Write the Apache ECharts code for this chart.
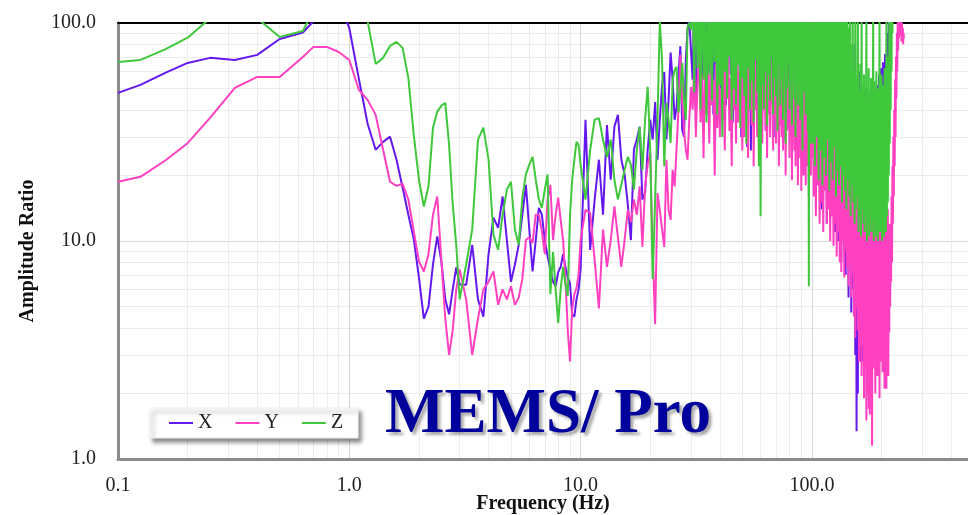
<!DOCTYPE html>
<html>
<head>
<meta charset="utf-8">
<script src="https://cdn.jsdelivr.net/npm/echarts@6/dist/echarts.min.js"></script>
<style>
html,body{margin:0;padding:0;background:#fff;}
#chart{width:968px;height:515px;}
</style>
</head>
<body>
<div id="chart"></div>
<script>
// Frequency (Hz)
const freq = [
  0.1,0.125,0.16,0.2,0.25,0.32,0.4,0.5,0.63,0.7,0.8,0.9,
  1,1.1,1.2,1.3,1.4,1.5,1.6,1.7,1.8,1.9,
  2,2.1,2.2,2.3,2.4,2.5,2.6,2.7,2.8,2.9,3,
  3.2,3.4,3.6,3.8,4,4.2,4.4,4.6,4.8,5,
  5.2,5.4,5.6,5.8,6,6.2,6.4,6.6,6.8,7,
  7.2,7.4,7.6,7.8,8,8.2,8.4,8.6,8.8,9,
  9.2,9.4,9.6,9.8,10,
  10.5,11,11.5,12,12.5,13,13.5,14,14.5,15,
  15.5,16,16.5,17,17.5,18,18.5,19,19.5,20,
  20.5,21,21.5,22,22.5,23,23.5,24,24.5,25,
  25.5,26,26.5,27,27.5,28,28.5,29,29.5,30,
  30.5,31,31.5,32,32.5,33,33.5,34,34.5,35,
  35.5,36,36.5,37,37.5,38,38.5,39,39.5,40,
  40.5,41,41.5,42,42.5,43,43.5,44,44.5,45,
  45.5,46,46.5,47,47.5,48,48.5,49,49.5,50,
  50.5,51,51.5,52,52.5,53,53.5,54,54.5,55,
  55.5,56,56.5,57,57.5,58,58.5,59,59.5,60,
  60.5,61,61.5,62,62.5,63,63.5,64,64.5,65,
  65.5,66,66.5,67,67.5,68,68.5,69,69.5,70,
  70.5,71,71.5,72,72.5,73,73.5,74,74.5,75,
  75.5,76,76.5,77,77.5,78,78.5,79,79.5,80,
  80.5,81,81.5,82,82.5,83,83.5,84,84.5,85,
  85.5,86,86.5,87,87.5,88,88.5,89,89.5,90,
  90.5,91,91.5,92,92.5,93,93.5,94,94.5,95,
  95.5,96,96.5,97,97.5,98,98.5,99,99.5,100,
  101,102,103,104,105,106,107,108,109,110,
  111,112,113,114,115,116,117,118,119,120,
  121,122,123,124,125,126,127,128,129,130,
  131,132,133,134,135,136,137,138,139,140,
  141,142,143,144,145,146,147,148,149,150,
  151,152,153,154,155,156,157,158,159,160,
  161,162,163,164,165,166,167,168,169,170,
  171,172,173,174,175,176,177,178,179,180,
  181,182,183,184,185,186,187,188,189,190,
  191,192,193,194,195,196,197,198,199,200,
  201,202,203,204,205,206,207,208,209,210,
  211,212,213,214,215,216,217,218,219,220,
  221,222,223,224,225,226,227,228,229,230,
  231,232,233,234,235,236,237,238,239,240,
  241,242,243,244,245,246,247,248,249,250
];
// Amplitude ratio, X direction
const ampX = [
  47.8,52.0,59.0,65.6,69.2,67.7,71.4,84.5,90.5,102,130,125,
  94.9,55.4,34.5,26.2,28.5,30.1,23.6,17.6,13.2,10.2,
  6.81,4.4,5.0,7.81,10.5,8.06,5.4,4.61,6.0,7.56,6.32,
  6.3,9.6,5.4,4.5,8.7,12.8,11.5,16.0,10.1,6.5,
  7.8,9.6,13.2,18.1,11.3,7.25,10.1,14.2,13.2,10.1,
  8.5,7.4,6.5,6.2,7.2,7.6,8.7,7.6,6.8,6.4,
  4.6,4.5,5.4,6.0,7.4,
  36,9.1,15.5,23.6,13.2,34.0,19.1,33.4,37.9,23.6,
  20.2,14.7,10.1,26.2,29.2,33.4,15.5,16.6,26.2,36.0,
  29.2,43.4,23.6,36,51.9,59.5,29.2,44.4,73.1,54.8,
  36,41.1,57.8,78.3,32.4,30.1,67.7,92.9,105,75.2,
  55,140,40,170,65,120,50,190,75,130,
  45,160,85,125,38,175,60,145,70,200,
  50,115,95,165,42,135,80,155,58,180,
  35,125,66,190,48,140,90,110,30,170,
  72,150,44,185,27,130,62,160,26,145,
  78,120,52,175,40,135,88,165,34,150,
  60,190,45,125,82,160,38,140,70,180,
  50,115,92,170,42,135,64,155,30,125,
  75,165,48,140,85,200,36,130,58,175,
  29,120,70,160,44,145,95,185,33,135,
  62,170,40,125,80,150,46,190,68,130,
  36,160,54,115,28,175,72,140,31,165,
  58,125,42,185,30,150,66,135,48,170,
  26,140,56,160,35,120,74,180,25,130,
  150,24,120,16,175,28,130,20,160,14,
  140,22,185,18,125,12,150,25,110,19,
  165,13,135,21,120,11,155,17,100,10,
  140,15,90,8,125,12,75,9,110,7,
  85,10,65,5.5,95,8,50,4.7,70,6,
  45,4.8,80,3.0,35,1.34,55,2.0,28,3.4,
  60,2.8,30,4.2,45,2.8,24,5,38,2.6,
  50,3.2,26,4.4,42,3.0,32,6,48,4.0,
  34,5.2,55,7,30,4.6,44,6.5,36,9,
  52,5.5,40,8,58,7,46,11,62,9,
  50,14,66,12,55,20,72,18,60,26,
  80,30,90,45,110,55,130,70,150,95,
  170,120,190,140,200,160,210,180,220,190,
  230,200,240,210,250,220,260,230,270,240,
  280,250,290,260,300,270,310,280,300,290
];
// Amplitude ratio, Y direction
const ampY = [
  18.7,19.7,23.4,28.1,36.7,50.4,56.6,56.6,69.9,77.7,77.7,73.6,
  67.7,49.3,44.4,37.9,26.2,18.7,17.9,18.3,15.5,11.1,
  8.06,7.25,8.7,13.2,16.0,8.2,4.4,3.0,3.9,6.0,7.4,
  5.4,3.0,4.4,6.0,6.5,7.25,5.1,6.0,5.4,6.2,
  5.1,5.5,6.7,10.1,10.4,9.8,13.2,13.2,11.1,8.7,
  15.5,18.1,10.1,13.2,15.8,12.5,10.1,6.7,3.9,2.8,
  4.9,5.7,6.1,7.0,10.1,
  13.9,13.5,8.2,4.9,11.3,7.6,10.1,14.4,10.4,7.6,
  10.1,13.9,12.2,15.5,13.2,17.8,9.4,17.8,22.4,25.4,
  9,4.15,16.6,13.9,11.3,9.4,23.6,13.9,12.5,21.2,
  17.8,17.8,40,71.4,44.4,32.4,26.2,23.6,36,50.9,
  40,66,30,52,72,35,58,24,68,38,
  60,28,74,42,55,20,65,33,70,30,
  50,36,68,26,62,45,72,32,56,22,
  66,40,58,28,74,35,60,44,70,26,
  54,30,68,38,62,24,72,42,58,34,
  66,22,56,40,70,30,60,26,74,36,
  58,28,70,44,54,32,66,24,62,38,
  72,30,56,42,68,26,60,36,74,28,
  52,40,66,22,58,34,70,30,54,26,
  64,38,56,20,68,32,60,44,52,24,
  66,30,58,19,62,36,55,26,64,22,
  50,34,60,18,56,40,62,24,52,17,
  58,28,50,20,60,32,54,18,48,26,
  56,22,46,16,52,30,58,20,44,24,
  50,16,42,13,46,18,38,12,44,15,
  36,11,48,17,33,12,40,14,30,10,
  38,13,28,9.5,34,12,26,8.5,32,11,
  25,8,30,7.2,24,10,28,6.8,22,9,
  26,7.5,20,6.2,24,8,18,5.5,21,7.1,
  17,4.5,22,3.6,16,5,19,3.9,15,2.8,
  18,3.3,14,2.4,20,3.3,13,1.9,17,2.6,
  12,1.5,16,2.0,13,1.7,18,1.6,12,2.25,
  15,1.15,11,2.6,17,3.3,12,2.0,14,3.4,
  10,2.4,15,3.3,12,1.9,16,2.8,11,3.6,
  14,2.5,10,3.0,13,2.1,12,2.6,16,2.1,
  11,3.2,14,2.4,9,3.8,12,5,10,6.5,
  16,8,22,12,30,16,40,22,55,30,
  70,45,90,60,105,75,110,85,120,90,
  115,88,105,82,100,85,95,80,90,85
];
// Amplitude ratio, Z direction
const ampZ = [
  66.3,67.7,75.7,85.6,105,140,105,86.3,91.9,115,150,160,
  170,130,102,64.9,69.2,78.5,81.9,76.9,56.0,30.7,
  19.1,14.4,17.8,33.1,39.2,41.7,43.0,27.6,14.7,9.6,5.4,
  7.8,11.3,29.2,33.1,23.6,10.7,9.1,13.2,17.2,18.7,
  11.3,9.6,15.8,20.2,22.4,24.3,19.1,15.5,14.2,17.2,
  20.2,5.7,8.9,6.0,4.2,6.0,7.6,6.3,5.6,13.2,
  19.1,23.6,28.5,27.6,22.4,
  15.5,26.2,36,36.6,29.2,24.3,29.2,19.1,15.5,18.1,
  21.2,24.3,22.4,17.2,26.2,33.4,21.2,36,51,26.2,
  6.7,15.5,36,102,67.7,22,43,36,28.2,54.8,
  60.9,62.9,38.9,49.3,65.6,44.4,36,95.9,100,92.9,
  150,48,180,62,130,40,200,55,120,35,
  160,58,140,44,190,66,125,38,170,52,
  135,30,210,60,115,45,175,70,145,36,
  185,50,120,42,160,64,140,33,195,56,
  130,46,165,28,150,62,205,40,118,54,
  175,35,140,68,190,48,125,22,160,13,
  145,52,180,40,120,60,200,34,150,58,
  130,44,170,70,140,38,185,56,115,46,
  160,32,135,64,210,42,125,55,175,36,
  145,60,190,28,130,50,165,66,120,40,
  180,54,140,34,200,62,125,45,155,30,
  170,58,115,42,190,68,135,36,160,52,
  145,26,175,48,125,60,205,38,140,56,
  165,32,150,6.2,140,44,185,28,130,50,
  28,160,22,130,30,180,19,140,26,120,
  18,170,24,135,20,150,29,115,17,190,
  23,125,19,160,27,140,16,105,21,175,
  18,130,22,150,15,110,20,165,17,120,
  14,140,19,95,16,125,13,80,18,150,
  15,60,12,110,14,55,16,130,11,48,
  13,65,10.5,120,14,52,12,58,11,45,
  13,105,10,50,12,62,10.5,44,14,56,
  11,48,12.5,115,10,54,13,46,10.5,60,
  12,42,10,50,14,110,11,47,12,58,
  10,44,13,52,10.5,62,12,48,11,120,
  13,55,15,70,20,105,28,130,40,150,
  60,170,90,190,120,200,150,210,170,220,
  180,230,200,240,210,250,220,260,230,270,
  240,280,250,290,260,300,270,310,280,300
];
const seriesNames = ['X', 'Y', 'Z'];
const seriesColors = ['#6418ee', '#ff40c0', '#40c83c'];
const xRange = [0.1, 473];
const yRange = [1, 100];

const serif = '"Liberation Serif", "Times New Roman", serif';
const amps = [ampX, ampY, ampZ];

const chart = echarts.init(document.getElementById('chart'), null, {renderer: 'canvas'});
chart.setOption({
  animation: false,
  backgroundColor: '#ffffff',
  title: {
    text: 'MEMS/ Pro',
    left: 385, top: 384, padding: 0,
    textStyle: {
      fontFamily: serif, fontWeight: 'bold', fontSize: 63, color: '#00009c',
      textShadowColor: 'rgba(0,0,0,0.35)', textShadowBlur: 3,
      textShadowOffsetX: 3, textShadowOffsetY: 3
    }
  },
  legend: {
    data: seriesNames,
    left: 150, top: 408,
    icon: 'rect', itemWidth: 24, itemHeight: 2, itemGap: 23,
    padding: [5, 15, 5, 19],
    backgroundColor: '#ffffff', borderColor: '#eeeeee', borderWidth: 1,
    shadowColor: 'rgba(0,0,0,0.45)', shadowBlur: 4, shadowOffsetX: 3, shadowOffsetY: 4,
    textStyle: {fontFamily: serif, fontSize: 20, color: '#222'}
  },
  grid: {left: 118, right: 0, top: 23, bottom: 56, outerBoundsMode: 'none', containLabel: false},
  xAxis: [{
    type: 'log', logBase: 10, min: xRange[0], max: xRange[1],
    position: 'bottom',
    name: 'Frequency (Hz)', nameLocation: 'middle', nameGap: 35,
    nameMoveOverlap: false,
    nameTextStyle: {fontFamily: serif, fontWeight: 'bold', fontSize: 20, color: '#111'},
    axisLine: {show: true, onZero: false, lineStyle: {color: '#8c8c8c', width: 3}},
    axisTick: {show: false},
    axisLabel: {
      fontFamily: serif, fontSize: 20, color: '#222', margin: 17,
      showMaxLabel: false,
      formatter: v => Number(v).toFixed(1)
    },
    splitLine: {show: true, lineStyle: {color: '#d6d6d6', width: 1}},
    minorTick: {show: false, splitNumber: 9},
    minorSplitLine: {show: true, lineStyle: {color: '#ececec', width: 1}}
  }, {
    type: 'log', logBase: 10, min: xRange[0], max: xRange[1],
    position: 'top',
    axisLine: {show: true, onZero: false, lineStyle: {color: '#000', width: 2}},
    axisTick: {show: false}, axisLabel: {show: false}, splitLine: {show: false}
  }],
  yAxis: {
    type: 'log', logBase: 10, min: yRange[0], max: yRange[1],
    name: 'Amplitude Ratio', nameLocation: 'middle', nameGap: 80,
    nameMoveOverlap: false,
    nameTextStyle: {fontFamily: serif, fontWeight: 'bold', fontSize: 20, color: '#111', padding: [0, 20, 0, 0]},
    axisLine: {show: true, onZero: false, lineStyle: {color: '#8c8c8c', width: 3}},
    axisTick: {show: false},
    axisLabel: {
      fontFamily: serif, fontSize: 20, color: '#222', margin: 22,
      formatter: v => Number(v).toFixed(1)
    },
    splitLine: {show: true, lineStyle: {color: '#d6d6d6', width: 1}},
    minorTick: {show: false, splitNumber: 9},
    minorSplitLine: {show: true, lineStyle: {color: '#ececec', width: 1}}
  },
  series: seriesNames.map((name, k) => ({
    name: name,
    type: 'line',
    xAxisIndex: 0,
    data: freq.map((f, i) => [f, amps[k][i]]),
    showSymbol: false,
    symbol: 'none',
    clip: true,
    color: seriesColors[k],
    lineStyle: {width: 2, color: seriesColors[k]},
    emphasis: {disabled: true},
    z: 2 + k
  }))
});
</script>
</body>
</html>
